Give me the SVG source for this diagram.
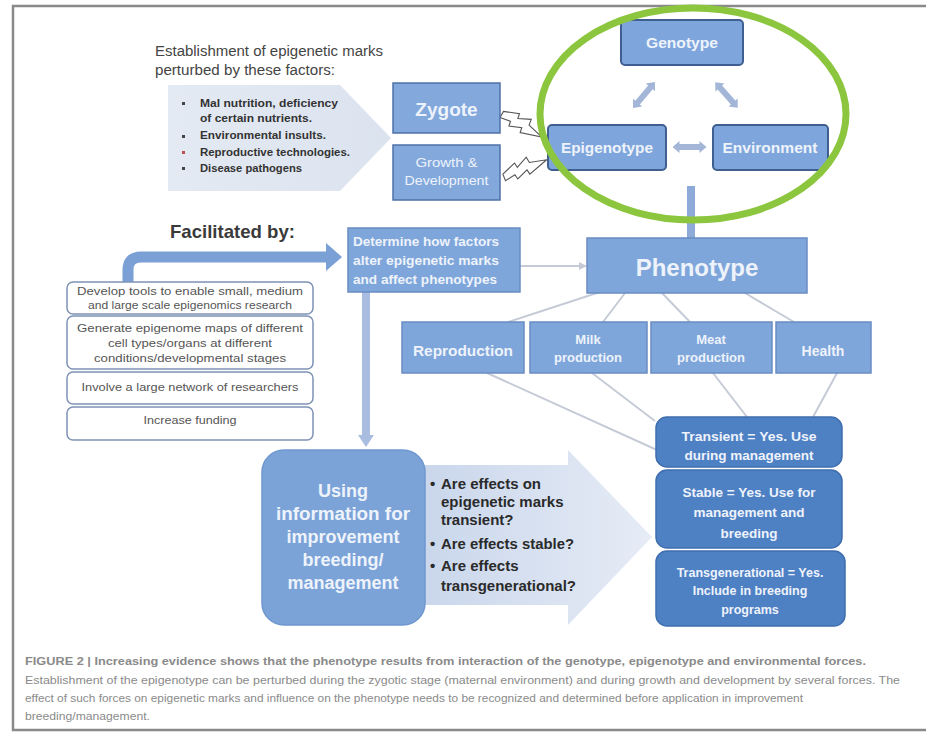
<svg xmlns="http://www.w3.org/2000/svg" width="926" height="733" viewBox="0 0 926 733">
<defs>
<style>
.t{font-family:"Liberation Sans",Arial,sans-serif}
.wb{font-family:"Liberation Sans",Arial,sans-serif;font-weight:bold;fill:#eef3fb;text-anchor:middle}
.wbl{font-family:"Liberation Sans",Arial,sans-serif;font-weight:bold;fill:#eef3fb;text-anchor:start}
.wn{font-family:"Liberation Sans",Arial,sans-serif;font-weight:normal;fill:#eef3fb;text-anchor:middle}
.box{fill:#7ea6da;stroke:#6a8cc2;stroke-width:1.5}
.gbox{fill:#7ea6dc;stroke:#3e5f8f;stroke-width:2}
.zbox{fill:#82a8dc;stroke:#4f71a8;stroke-width:1.5}
.rbox{fill:#4e80c4;stroke:#3f6eae;stroke-width:1.5}
.fbox{fill:#fff;stroke:#7f93b5;stroke-width:1.5}
.ft{font-family:"Liberation Sans",Arial,sans-serif;font-size:11.5px;fill:#555;text-anchor:middle}
.bt{font-family:"Liberation Sans",Arial,sans-serif;font-size:11px;font-weight:bold;fill:#333}
.qt{font-family:"Liberation Sans",Arial,sans-serif;font-size:15px;font-weight:bold;fill:#2a2a2a}
.ln{stroke:#c5cbd6;stroke-width:2;fill:none}
.ga{fill:#a3b6d8}
.bolt{fill:#fff;stroke:#555;stroke-width:1.1;stroke-linejoin:miter}
.cap{font-family:"Liberation Sans",Arial,sans-serif;font-size:11px;fill:#8a8a8a}
</style>
<linearGradient id="bigArrow" x1="0" y1="0" x2="1" y2="0">
<stop offset="0" stop-color="#c9d6eb"/>
<stop offset="1" stop-color="#e6ecf6"/>
</linearGradient>
<linearGradient id="pent" x1="0" y1="0" x2="1" y2="0">
<stop offset="0" stop-color="#e4eaf3"/>
<stop offset="1" stop-color="#dbe3ef"/>
</linearGradient>
<marker id="smallHead" viewBox="0 0 10 10" refX="9" refY="5" markerWidth="4" markerHeight="4" orient="auto">
<path d="M0,0 L10,5 L0,10 z" fill="#c5cbd6"/>
</marker>
</defs>

<rect x="13" y="6" width="930" height="724" fill="#fff" stroke="#8a8a8a" stroke-width="2.5"/>

<g id="connectors">
<polygon points="420,465 568,465 568,450 652,537 568,625 568,605 420,605" fill="url(#bigArrow)"/>
<line class="ln" x1="600" y1="292" x2="508" y2="322"/>
<line class="ln" x1="625" y1="293" x2="603" y2="322"/>
<line class="ln" x1="662" y1="293" x2="690" y2="322"/>
<line class="ln" x1="745" y1="293" x2="794" y2="322"/>
<line class="ln" x1="487" y1="373" x2="657" y2="450"/>
<line class="ln" x1="592" y1="373" x2="655" y2="421"/>
<line class="ln" x1="713" y1="373" x2="747" y2="417"/>
<line class="ln" x1="837" y1="373" x2="813" y2="417"/>
<line class="ln" x1="520" y1="266" x2="586" y2="266" marker-end="url(#smallHead)"/>
<rect x="362" y="292" width="8" height="144" fill="#a9bde0"/>
<polygon points="358,435 374,435 366,447" fill="#a9bde0"/>
<path d="M128,283 L128,270 Q128,257 141,257 L327,257" fill="none" stroke="#7aa0d6" stroke-width="11"/>
<polygon points="326,243 342,257 326,271" fill="#7aa0d6"/>
<rect x="687" y="186" width="8" height="52" fill="#8eaad8"/>
<polygon class="ga" transform="translate(644,95) rotate(-50)" points="-17,0 -10,-6 -10,-3 10,-3 10,-6 17,0 10,6 10,3 -10,3 -10,6"/>
<polygon class="ga" transform="translate(726.5,95) rotate(48.5)" points="-17,0 -10,-6 -10,-3 10,-3 10,-6 17,0 10,6 10,3 -10,3 -10,6"/>
<polygon class="ga" transform="translate(689.5,147)" points="-17,0 -10,-6 -10,-3 10,-3 10,-6 17,0 10,6 10,3 -10,3 -10,6"/>
<polygon class="bolt" transform="translate(502,114) rotate(30)" points="0,-3 15,-9 16,-4 28,-10 29,-4 46,0 25,7 24,2 12,7 11,2 0,4"/>
<polygon class="bolt" transform="translate(504,177) rotate(-22)" points="0,-3 15,-9 16,-4 28,-10 29,-4 46,0 25,7 24,2 12,7 11,2 0,4"/>
</g>

<g id="intro-text">
<text class="t" x="155" y="56" font-size="14" fill="#444" textLength="228" lengthAdjust="spacingAndGlyphs">Establishment of epigenetic marks</text>
<text class="t" x="155" y="75" font-size="14" fill="#444" textLength="180" lengthAdjust="spacingAndGlyphs">perturbed by these factors:</text>
</g>

<g id="node-factors">
<polygon points="168,85 340,85 391,138 340,191 168,191" fill="url(#pent)"/>
<rect x="182" y="102" width="3" height="3" fill="#444"/>
<rect x="182" y="135" width="3" height="3" fill="#444"/>
<rect x="182" y="151" width="3" height="3" fill="#c0504d"/>
<rect x="182" y="167" width="3" height="3" fill="#444"/>
<text class="bt" x="200" y="107" textLength="138" lengthAdjust="spacingAndGlyphs">Mal nutrition, deficiency</text>
<text class="bt" x="200" y="122" textLength="112" lengthAdjust="spacingAndGlyphs">of certain nutrients.</text>
<text class="bt" x="200" y="139" textLength="126" lengthAdjust="spacingAndGlyphs">Environmental insults.</text>
<text class="bt" x="200" y="156" textLength="150" lengthAdjust="spacingAndGlyphs">Reproductive technologies.</text>
<text class="bt" x="200" y="172" textLength="102" lengthAdjust="spacingAndGlyphs">Disease pathogens</text>
</g>

<g id="node-zygote">
<rect class="zbox" x="393" y="83" width="107" height="50"/>
<text class="wb" x="446.5" y="116" font-size="19">Zygote</text>
</g>

<g id="node-growth">
<rect class="zbox" x="393" y="145" width="107" height="55"/>
<text class="wn" x="446.5" y="167" font-size="12" textLength="62" lengthAdjust="spacingAndGlyphs">Growth &amp;</text>
<text class="wn" x="446.5" y="185" font-size="12" textLength="84" lengthAdjust="spacingAndGlyphs">Development</text>
</g>

<g id="node-genotype">
<rect class="gbox" x="621" y="20" width="122" height="45" rx="4"/>
<text class="wb" x="682" y="48" font-size="14.5" textLength="72" lengthAdjust="spacingAndGlyphs">Genotype</text>
</g>

<g id="node-epigenotype">
<rect class="gbox" x="548" y="125" width="118" height="45" rx="4"/>
<text class="wb" x="607" y="153" font-size="14.5" textLength="92" lengthAdjust="spacingAndGlyphs">Epigenotype</text>
</g>

<g id="node-environment">
<rect class="gbox" x="713" y="125" width="115" height="45" rx="4"/>
<text class="wb" x="770" y="153" font-size="14.5" textLength="95" lengthAdjust="spacingAndGlyphs">Environment</text>
</g>

<g id="highlight">
<ellipse cx="693" cy="114" rx="153" ry="106" fill="none" stroke="#8cc63f" stroke-width="7"/>
</g>

<g id="node-facilitated-label">
<text class="t" x="170" y="238" font-size="18.5" font-weight="bold" fill="#3a3a3a" textLength="125" lengthAdjust="spacingAndGlyphs">Facilitated by:</text>
</g>

<g id="node-tools">
<rect class="fbox" x="67" y="282" width="246" height="32" rx="6"/>
<text class="ft" x="190" y="295" textLength="226" lengthAdjust="spacingAndGlyphs">Develop tools to enable small, medium</text>
<text class="ft" x="190" y="309" textLength="204" lengthAdjust="spacingAndGlyphs">and large scale epigenomics research</text>
</g>
<g id="node-maps">
<rect class="fbox" x="67" y="316" width="246" height="53" rx="6"/>
<text class="ft" x="190" y="332" textLength="226" lengthAdjust="spacingAndGlyphs">Generate epigenome maps of different</text>
<text class="ft" x="190" y="347" textLength="164" lengthAdjust="spacingAndGlyphs">cell types/organs at different</text>
<text class="ft" x="190" y="362" textLength="192" lengthAdjust="spacingAndGlyphs">conditions/developmental stages</text>
</g>
<g id="node-network">
<rect class="fbox" x="67" y="372" width="246" height="32" rx="6"/>
<text class="ft" x="190" y="391" textLength="217" lengthAdjust="spacingAndGlyphs">Involve a large network of researchers</text>
</g>
<g id="node-funding">
<rect class="fbox" x="67" y="407" width="246" height="33" rx="6"/>
<text class="ft" x="190" y="424" textLength="93" lengthAdjust="spacingAndGlyphs">Increase funding</text>
</g>

<g id="node-determine">
<rect class="box" x="348" y="228" width="172" height="64"/>
<text class="wbl" x="353" y="246" font-size="13" textLength="146" lengthAdjust="spacingAndGlyphs">Determine how factors</text>
<text class="wbl" x="353" y="265" font-size="13" textLength="146" lengthAdjust="spacingAndGlyphs">alter epigenetic marks</text>
<text class="wbl" x="353" y="284" font-size="13" textLength="144" lengthAdjust="spacingAndGlyphs">and affect phenotypes</text>
</g>

<g id="node-phenotype">
<rect class="box" x="587" y="238" width="220" height="55"/>
<text class="wb" x="697" y="276" font-size="24">Phenotype</text>
</g>

<g id="node-reproduction">
<rect class="box" x="402" y="322" width="122" height="51"/>
<text class="wb" x="463" y="356" font-size="14" textLength="100" lengthAdjust="spacingAndGlyphs">Reproduction</text>
</g>
<g id="node-milk">
<rect class="box" x="530" y="322" width="117" height="51"/>
<text class="wb" x="588" y="344" font-size="13">Milk</text>
<text class="wb" x="588" y="362" font-size="13">production</text>
</g>
<g id="node-meat">
<rect class="box" x="651" y="322" width="121" height="51"/>
<text class="wb" x="711" y="344" font-size="13">Meat</text>
<text class="wb" x="711" y="362" font-size="13">production</text>
</g>
<g id="node-health">
<rect class="box" x="776" y="322" width="95" height="51"/>
<text class="wb" x="823" y="356" font-size="14">Health</text>
</g>

<g id="node-using">
<rect x="262" y="450" width="163" height="175" rx="22" fill="#7ba3d8" stroke="#6f98d0" stroke-width="1.5"/>
<text class="wb" x="343" y="497" font-size="18">Using</text>
<text class="wb" x="343" y="520" font-size="18" textLength="134" lengthAdjust="spacingAndGlyphs">information for</text>
<text class="wb" x="343" y="543" font-size="18">improvement</text>
<text class="wb" x="343" y="566" font-size="18">breeding/</text>
<text class="wb" x="343" y="589" font-size="18">management</text>
</g>

<g id="node-questions">
<text class="qt" x="430" y="489">•</text>
<text class="qt" x="441" y="489">Are effects on</text>
<text class="qt" x="441" y="507">epigenetic marks</text>
<text class="qt" x="441" y="525">transient?</text>
<text class="qt" x="430" y="549">•</text>
<text class="qt" x="441" y="549" textLength="133" lengthAdjust="spacingAndGlyphs">Are effects stable?</text>
<text class="qt" x="430" y="571">•</text>
<text class="qt" x="441" y="571">Are effects</text>
<text class="qt" x="441" y="591" textLength="135" lengthAdjust="spacingAndGlyphs">transgenerational?</text>
</g>

<g id="node-transient">
<rect class="rbox" x="656" y="417" width="186" height="50" rx="11"/>
<text class="wb" x="749" y="441" font-size="13.5" textLength="135" lengthAdjust="spacingAndGlyphs">Transient = Yes. Use</text>
<text class="wb" x="749" y="460" font-size="13.5">during management</text>
</g>
<g id="node-stable">
<rect class="rbox" x="656" y="470" width="186" height="78" rx="11"/>
<text class="wb" x="749" y="497" font-size="13.5">Stable = Yes. Use  for</text>
<text class="wb" x="749" y="517" font-size="13.5">management and</text>
<text class="wb" x="749" y="538" font-size="13.5">breeding</text>
</g>
<g id="node-transgenerational">
<rect class="rbox" x="656" y="551" width="189" height="75" rx="11"/>
<text class="wb" x="750" y="577" font-size="12.5">Transgenerational  = Yes.</text>
<text class="wb" x="750" y="595" font-size="12.5">Include in breeding</text>
<text class="wb" x="750" y="614" font-size="12.5">programs</text>
</g>

<g id="caption">
<text class="cap" x="25" y="665" font-weight="bold" fill="#333" textLength="841" lengthAdjust="spacingAndGlyphs">FIGURE 2 | Increasing evidence shows that the phenotype results from interaction of the genotype, epigenotype and environmental forces.</text>
<text class="cap" x="25" y="684" textLength="875" lengthAdjust="spacingAndGlyphs">Establishment of the epigenotype can be perturbed during the zygotic stage (maternal environment) and during growth and development by several forces. The</text>
<text class="cap" x="25" y="702" textLength="778" lengthAdjust="spacingAndGlyphs">effect of such forces on epigenetic marks and influence on the phenotype needs to be recognized and determined before application in improvement</text>
<text class="cap" x="25" y="720" textLength="125" lengthAdjust="spacingAndGlyphs">breeding/management.</text>
</g>
</svg>
